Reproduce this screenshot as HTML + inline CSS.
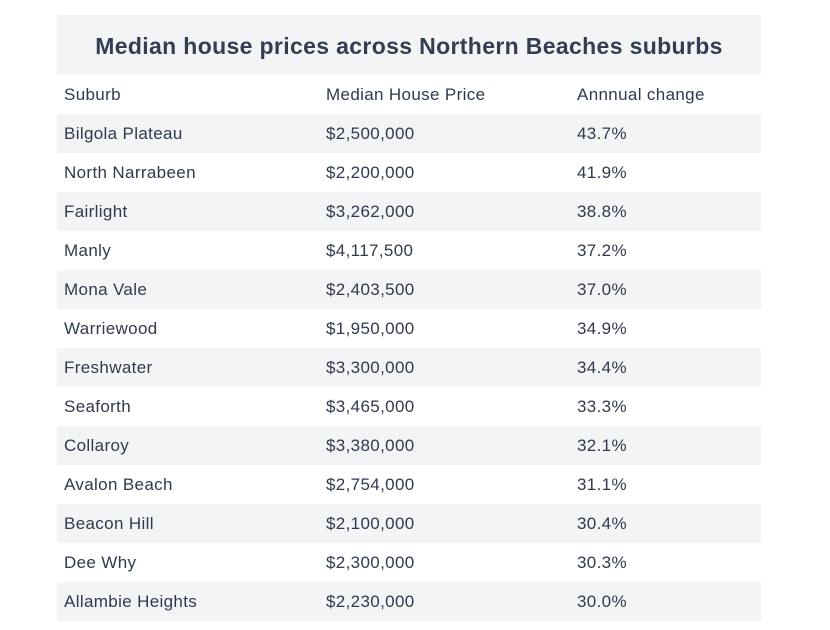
<!DOCTYPE html>
<html><head><style>
body{margin:0;width:830px;height:630px;background:#fff;font-family:"Liberation Sans",sans-serif;color:#2f3a4c;position:relative;overflow:hidden}
.t{position:absolute;left:57px;top:15px;width:704px;height:60px;background:#f3f4f6;font-weight:bold;font-size:23px;letter-spacing:0.35px;line-height:62px;text-align:center;color:#333e52}
.r{position:absolute;left:57px;width:704px;height:39px;font-size:17px;letter-spacing:0.35px;line-height:40px}
.r.g{background:#f3f4f6}
.r span{position:absolute;top:0}
.a{left:7px}.b{left:269px}.c{left:520px}
</style></head><body>
<div class="t">Median house prices across Northern Beaches suburbs</div>
<div class="r" style="top:75px"><span class="a">Suburb</span><span class="b">Median House Price</span><span class="c">Annnual change</span></div>
<div class="r g" style="top:114px"><span class="a">Bilgola Plateau</span><span class="b">$2,500,000</span><span class="c">43.7%</span></div>
<div class="r" style="top:153px"><span class="a">North Narrabeen</span><span class="b">$2,200,000</span><span class="c">41.9%</span></div>
<div class="r g" style="top:192px"><span class="a">Fairlight</span><span class="b">$3,262,000</span><span class="c">38.8%</span></div>
<div class="r" style="top:231px"><span class="a">Manly</span><span class="b">$4,117,500</span><span class="c">37.2%</span></div>
<div class="r g" style="top:270px"><span class="a">Mona Vale</span><span class="b">$2,403,500</span><span class="c">37.0%</span></div>
<div class="r" style="top:309px"><span class="a">Warriewood</span><span class="b">$1,950,000</span><span class="c">34.9%</span></div>
<div class="r g" style="top:348px"><span class="a">Freshwater</span><span class="b">$3,300,000</span><span class="c">34.4%</span></div>
<div class="r" style="top:387px"><span class="a">Seaforth</span><span class="b">$3,465,000</span><span class="c">33.3%</span></div>
<div class="r g" style="top:426px"><span class="a">Collaroy</span><span class="b">$3,380,000</span><span class="c">32.1%</span></div>
<div class="r" style="top:465px"><span class="a">Avalon Beach</span><span class="b">$2,754,000</span><span class="c">31.1%</span></div>
<div class="r g" style="top:504px"><span class="a">Beacon Hill</span><span class="b">$2,100,000</span><span class="c">30.4%</span></div>
<div class="r" style="top:543px"><span class="a">Dee Why</span><span class="b">$2,300,000</span><span class="c">30.3%</span></div>
<div class="r g" style="top:582px"><span class="a">Allambie Heights</span><span class="b">$2,230,000</span><span class="c">30.0%</span></div>
</body></html>
